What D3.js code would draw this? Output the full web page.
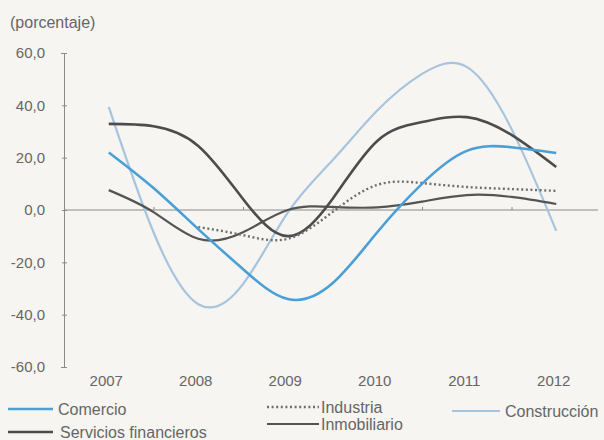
<!DOCTYPE html>
<html>
<head>
<meta charset="utf-8">
<script src="https://cdn.jsdelivr.net/npm/d3@7"></script>
<style>
  body { margin: 0; background: #f6f5f1; }
  svg { display: block; font-family: "Liberation Sans", Arial, sans-serif; }
  text { fill: #666; }
</style>
</head>
<body>
<svg width="604" height="440"></svg>
<script>
// data (half-year steps)
const periods = [2007, 2007.5, 2008, 2008.5, 2009, 2009.5, 2010, 2010.5, 2011, 2011.5, 2012];
const years = [2007, 2008, 2009, 2010, 2011, 2012];
const yTicks = [-60, -40, -20, 0, 20, 40, 60];

const comercio = [22, 8.4, -7.3, -22.6, -34, -28, -8.5, 10, 22.6, 24, 21.8];
const construccion = [39.4, -8.5, -36, -28.3, -1, 19, 38, 52, 54.7, 31, -8];
const servicios = [32.9, 32, 24.5, 4.2, -10, 4.2, 26.4, 33.6, 35.5, 28.7, 16.4];
const inmobiliario = [7.6, -0.8, -11, -8.5, 0, 1.2, 1, 3.2, 5.7, 5, 2.3];
const industria = [null, null, -6.5, -9.6, -11, -0.8, 9.6, 10.3, 8.8, 8, 7.3];

const svg = d3.select("svg");

// scales
const x = d3.scaleLinear()
    .domain([2006.5, 2012.5])
    .range([64, 601]);

const y = d3.scaleLinear()
    .domain([-60, 60])
    .range([367, 53]);

const fmt = (d) => d3.format(".1f")(d).replace(".", ",").replace("−", "-");

// unit label
svg.append("text")
    .attr("x", 10)
    .attr("y", 28)
    .attr("font-size", 16)
    .text("(porcentaje)");

// y axis
const yAxis = svg.append("g")
    .attr("transform", `translate(${x.range()[0]},0)`)
    .call(d3.axisLeft(y)
      .tickValues(yTicks)
      .tickSize(3)
      .tickPadding(16)
      .tickFormat(fmt));
yAxis.select(".domain").attr("stroke", "#8a8a8a");
yAxis.selectAll(".tick line").attr("stroke", "#8a8a8a").attr("x2", 3).attr("x1", -2);
yAxis.selectAll(".tick text")
    .attr("font-size", 15)
    .attr("fill", "#666")
    .style("font-family", "'Liberation Sans', Arial, sans-serif");

// zero line with half-year ticks
const zero = svg.append("g")
    .attr("transform", `translate(0,${y(0)})`)
    .call(d3.axisBottom(x)
      .tickValues(d3.range(2007.5, 2012, 1))
      .tickSize(-3)
      .tickFormat(""));
zero.select(".domain").attr("stroke", "#8a8a8a").attr("d", `M${x.range()[0]},0H598`);
zero.selectAll(".tick line").attr("stroke", "#a08070");

// year labels
const xAxis = svg.append("g")
    .attr("transform", `translate(-3,${y(-60) + 4})`)
    .call(d3.axisBottom(x)
      .tickValues(years)
      .tickSize(0)
      .tickPadding(4)
      .tickFormat(d3.format("d")));
xAxis.select(".domain").remove();
xAxis.selectAll(".tick text")
    .attr("font-size", 15)
    .attr("fill", "#666")
    .style("font-family", "'Liberation Sans', Arial, sans-serif");

// series
const series = [
  { name: "Construcción", values: construccion, color: "#a6c4de", width: 2.2, dash: null },
  { name: "Inmobiliario", values: inmobiliario, color: "#545454", width: 2.2, dash: null },
  { name: "Servicios financieros", values: servicios, color: "#4c4c4c", width: 2.6, dash: null },
  { name: "Industria", values: industria, color: "#6e6e6e", width: 2.4, dash: "2,2.6" },
  { name: "Comercio", values: comercio, color: "#4a9fd6", width: 2.6, dash: null }
];

const line = d3.line()
    .defined((d) => d[1] != null)
    .x((d) => x(d[0]))
    .y((d) => y(d[1]))
    .curve(d3.curveNatural);

svg.append("g")
  .selectAll("path")
  .data(series)
  .enter().append("path")
    .attr("fill", "none")
    .attr("stroke", (d) => d.color)
    .attr("stroke-width", (d) => d.width)
    .attr("stroke-dasharray", (d) => d.dash)
    .attr("d", (d) => line(periods.map((p, i) => [p, d.values[i]])));

// legend
const legend = [
  { s: series[4], x: 8, y: 409 },
  { s: series[3], x: 267, y: 407 },
  { s: series[0], x: 452, y: 411 },
  { s: series[2], x: 8, y: 432 },
  { s: series[1], x: 267, y: 424 }
];

const lg = svg.append("g")
  .selectAll("g")
  .data(legend)
  .enter().append("g")
    .attr("transform", (d) => `translate(${d.x},${d.y})`);

lg.append("line")
    .attr("x2", (d) => d.s.name === "Construcción" ? 48 : (d.x > 200 ? 52 : 45))
    .attr("stroke", (d) => d.s.color)
    .attr("stroke-width", (d) => d.s.width)
    .attr("stroke-dasharray", (d) => d.s.dash);

lg.append("text")
    .attr("x", (d) => d.s.name === "Construcción" ? 53 : (d.x > 200 ? 54 : 50 + (d.s.name === "Comercio" ? 0 : 2)))
    .attr("dy", "0.35em")
    .attr("font-size", 16)
    .text((d) => d.s.name);
</script>
</body>
</html>
